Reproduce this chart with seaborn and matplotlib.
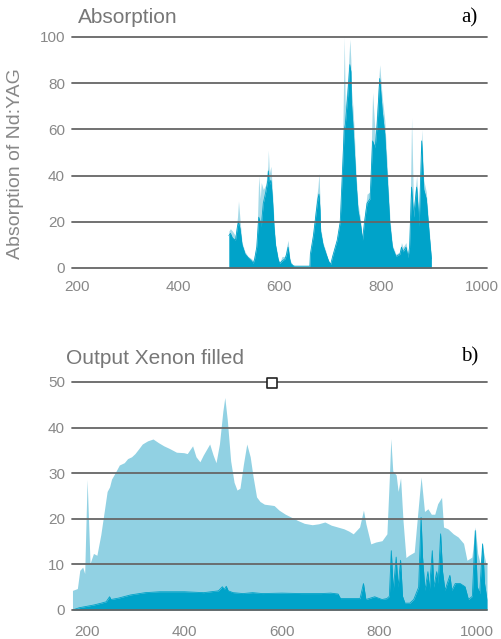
import numpy as np
import matplotlib
matplotlib.use('Agg')
import matplotlib.pyplot as plt
import seaborn as sns

sns.set_theme(style='white')
plt.rcParams['font.family'] = ['Liberation Sans', 'DejaVu Sans']

# ===== data =====
# a) absorption of Nd:YAG (body and thin spike tops)
abs_nm = [500, 503, 507, 513, 517, 519, 522, 526, 532, 538, 545, 548, 551, 555,
          559, 562, 564, 568, 573, 577, 578, 580, 583, 586, 589, 592, 597, 600,
          605, 611, 614, 617, 620, 622, 627, 630, 660, 661, 667, 673, 676, 678,
          680, 681, 686, 692, 697, 701, 705, 714, 720, 724, 728, 730, 735, 739,
          741, 742, 745, 748, 751, 755, 760, 764, 768, 773, 779, 784, 789, 793,
          798, 803, 808, 812, 818, 823, 830, 838, 841, 844, 850, 854, 857, 861,
          865, 871, 876, 881, 885, 890, 896, 900]
abs_body = [14, 15, 13, 12, 18, 20, 17, 10, 6, 4.5, 3, 2, 4, 9,
            22, 20, 18, 28, 33, 38, 42, 36, 38, 30, 18, 10, 4, 2,
            3, 4, 6, 9, 4, 2, 1, 0.8, 0.8, 6, 14, 25, 30, 32,
            25, 16, 10, 6, 3, 1.5, 5, 12, 20, 40, 60, 62, 75, 88,
            85, 72, 62, 50, 38, 25, 19, 12, 20, 28, 30, 55, 52, 62,
            82, 68, 58, 42, 19, 9, 5, 6, 9, 7, 9, 4.5, 9, 35,
            22, 35, 18, 55, 34, 30, 14, 4]
abs_tops = [16, 17, 16, 14, 22, 29, 21, 11, 7, 5, 4, 3, 6, 10,
            40, 30, 37, 34, 36, 44, 51, 41, 44, 34, 21, 11, 5, 2,
            5, 5, 9, 12, 5, 3, 1, 0.8, 0.8, 7, 16, 30, 35, 41,
            30, 18, 11, 7, 3, 2, 6, 13, 21, 44, 100, 70, 82, 99,
            90, 78, 70, 58, 42, 28, 21, 13, 23, 32, 33, 76, 58, 70,
            88, 74, 64, 48, 22, 10, 6, 7, 11, 9, 11, 5, 10, 65,
            26, 40, 21, 60, 38, 33, 16, 5]

# b) output of xenon filled lamp: total (light) and lower band (dark)
xe_nm = [171, 181, 186, 192, 196, 201, 207, 214, 221, 229, 236, 242, 247, 251,
         258, 267, 277, 284, 292, 299, 307, 314, 325, 336, 347, 358, 370, 384,
         399, 406, 417, 424, 432, 439, 452, 459, 465, 472, 479, 483, 488, 495,
         502, 508, 514, 521, 528, 535, 541, 548, 555, 564, 578, 584, 594, 607,
         620, 633, 646, 662, 675, 688, 701, 714, 727, 737, 746, 759, 767, 772,
         782, 792, 805, 815, 820, 823, 827, 834, 838, 843, 848, 854, 860, 871,
         878, 885, 892, 899, 906, 913, 919, 927, 931, 940, 951, 961, 972, 979,
         989, 996, 1001, 1006, 1011, 1017, 1020]
xe_total = [4.3, 4.7, 8.7, 9.4, 8.0, 28.6, 10.2, 12.4, 12.0, 16.5, 21.6, 26.0, 27.0, 28.7,
            30.0, 31.8, 32.3, 33.2, 33.6, 34.3, 35.4, 36.4, 37.1, 37.5, 36.7, 36.0, 35.4, 34.6,
            34.5, 34.3, 36.0, 33.6, 32.5, 34.0, 36.4, 34.0, 32.3, 36.4, 43.6, 46.6, 41.8, 32.7,
            28.0, 26.3, 26.7, 31.9, 36.4, 33.6, 29.2, 24.8, 23.8, 23.2, 23.0, 22.9, 21.9, 21.0,
            20.3, 19.6, 19.0, 18.7, 18.9, 19.3, 18.6, 18.2, 17.8, 17.3, 16.7, 18.2, 21.9, 18.9,
            14.5, 14.9, 15.2, 16.7, 29.0, 37.6, 30.5, 29.6, 26.0, 29.0, 19.6, 11.5, 12.0, 12.7,
            21.0, 29.2, 21.6, 22.2, 21.0, 21.0, 23.3, 24.7, 18.2, 17.8, 16.7, 16.0, 14.6, 10.9,
            11.6, 18.2, 12.4, 10.2, 13.8, 10.5, 10.0]

band_nm = [171, 185, 200, 215, 230, 240, 247, 250, 265, 290, 320, 350, 400, 440,
           470, 478, 482, 486, 490, 500, 520, 540, 560, 600, 640, 680, 700, 715,
           720, 740, 760, 767, 772, 790, 805, 815, 820, 824, 828, 834, 838, 843,
           847, 852, 862, 870, 880, 885, 888, 893, 899, 902, 908, 911, 917, 920,
           925, 929, 934, 944, 948, 955, 965, 975, 982, 990, 996, 1000, 1005, 1011,
           1015, 1020]
band = [0, 0.5, 0.8, 1.1, 1.5, 1.8, 2.9, 2.3, 2.6, 3.3, 3.8, 4.0, 4.0, 3.8,
        4.2, 5.1, 4.5, 5.2, 4.2, 3.8, 3.6, 3.8, 3.6, 3.7, 3.6, 3.6, 3.7, 3.5,
        2.5, 2.5, 2.5, 5.8, 2.3, 2.9, 2.3, 2.5, 3.0, 13.0, 4.3, 11.6, 5.0, 10.9,
        3.0, 1.5, 1.5, 2.3, 5.0, 20.3, 11.6, 4.3, 8.4, 4.3, 13.0, 5.0, 8.4, 5.8,
        16.7, 8.4, 4.3, 7.6, 4.3, 5.8, 5.8, 5.1, 2.3, 3.0, 17.4, 5.1, 3.6, 14.5,
        5.8, 2.3]

# little square marker sitting on the 50 line
marker_nm = [580]
marker_val = [49.8]

dark = '#00a3c9'
light = '#91d1e3'
grid_c = '#666666'
txt_c = '#888888'

fig = plt.figure(figsize=(5.02, 6.39), dpi=100)
ax1 = fig.add_axes([0.1434, 0.5806, 0.8267, 0.3615])
ax2 = fig.add_axes([0.1434, 0.0454, 0.8267, 0.3568])


def style_axis(ax, yticks, xlim, ylim):
    ax.set_xlim(*xlim)
    ax.set_ylim(*ylim)
    for y in yticks:
        ax.axhline(y, color=grid_c, lw=1.3, zorder=5, clip_on=False)
    ax.set_yticks(yticks)
    ax.set_xticks([200, 400, 600, 800, 1000])
    ax.tick_params(axis='both', colors=txt_c, labelsize=11, length=0)
    ax.tick_params(axis='y', pad=5)
    ax.tick_params(axis='x', pad=9)
    for s in ax.spines.values():
        s.set_visible(False)
    ax.set_xlabel('')
    ax.set_ylabel('')


# ----- a) absorption -----
ax1.fill_between(abs_nm, 0, abs_tops, color=light, lw=0, alpha=0.8, zorder=2)
ax1.fill_between(abs_nm, 0, abs_body, color=dark, lw=0, zorder=3)
sns.lineplot(x=abs_nm, y=abs_body, ax=ax1, color=dark, lw=0.6, zorder=3)
style_axis(ax1, [0, 20, 40, 60, 80, 100], (190, 1010), (0, 100))
ax1.set_ylabel('Absorption of Nd:YAG', color=txt_c, fontsize=14, labelpad=3)
ax1.yaxis.set_label_coords(-0.115, 0.45)
fig.text(0.155, 0.973, 'Absorption', color='#777777', fontsize=15, ha='left', va='center')
fig.text(0.935, 0.972, 'a)', family=['Liberation Serif', 'DejaVu Serif'],
         fontsize=15, color='black', ha='center', va='center')

# ----- b) xenon output -----
ax2.fill_between(xe_nm, 0, xe_total, color=light, lw=0, zorder=2)
ax2.fill_between(band_nm, 0, band, color=dark, lw=0, zorder=3)
sns.lineplot(x=band_nm, y=band, ax=ax2, color=dark, lw=0.6, zorder=3)
style_axis(ax2, [0, 10, 20, 30, 40, 50], (170, 1020), (0, 50))
ax2.tick_params(axis='x', pad=11)
sns.scatterplot(x=marker_nm, y=marker_val, ax=ax2, marker='s', s=45,
                facecolor='white', edgecolor='#222222', linewidth=1.2, zorder=6, clip_on=False)
fig.text(0.132, 0.439, 'Output Xenon filled', color='#777777', fontsize=15,
         ha='left', va='center')
fig.text(0.935, 0.441, 'b)', family=['Liberation Serif', 'DejaVu Serif'],
         fontsize=15, color='black', ha='center', va='center')

fig.savefig('out.png', dpi=100)
